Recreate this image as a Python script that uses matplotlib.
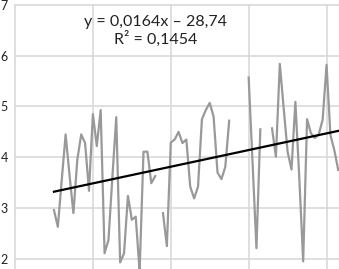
import matplotlib
matplotlib.use('Agg')
import matplotlib.pyplot as plt
import numpy as np

plt.rcParams['font.family'] = ['Lato', 'DejaVu Sans']

# yearly values, NaN where the series has a gap
years = list(range(1955, 2029))
values = [
    2.96, 2.63, 3.55, 4.45, 3.65, 2.90, 3.95, 4.45, 4.28, 3.34,   # 1955-1964
    4.85, 4.22, 4.93, 2.11, 2.37, 3.60, 4.79, 1.93, 2.11, 3.24,   # 1965-1974
    2.77, 2.83, 1.75, 4.11, 4.11, 3.49, 3.63, np.nan, 2.90, 2.25,  # 1975-1984
    4.29, 4.35, 4.50, 4.28, 4.35, 3.42, 3.19, 3.42, 4.75, 4.93,   # 1985-1994
    5.07, 4.80, 3.70, 3.57, 3.81, 4.72, np.nan, np.nan, np.nan, np.nan,  # 1995-2004
    5.57, 3.90, 2.21, 4.55, np.nan, np.nan, 4.57, 4.01, 5.84, 4.96,  # 2005-2014
    4.11, 3.76, 5.09, 3.60, 1.95, 4.75, 4.47, 4.38, 4.45, 4.74,   # 2015-2024
    5.82, 4.44, 4.14, 3.75,                                       # 2025-2028
]

# trend line as printed on the chart
slope = 0.0164
intercept = -28.74
equation = 'y = 0,0164x – 28,74\nR² = 0,1454'

fig = plt.figure(figsize=(3.39, 2.69), dpi=100)
ax = fig.add_axes([15 / 339, 0.0, 1 - 15 / 339, (269 - 4.9) / 269])

ax.plot(years, values, color='#999999', linewidth=1.6, zorder=3)

trend_x = np.array([years[0], 2030])
ax.plot(trend_x, slope * trend_x + intercept, color='black', linewidth=1.6, zorder=4)

ax.set_xlim(1945, 2028.2)
ax.set_ylim(1.8, 7.0)
ax.set_xticks([1945, 1965, 1985, 2005, 2025])
ax.set_yticks([2, 3, 4, 5, 6, 7])
ax.set_xticklabels([])
ax.grid(True, color='#d9d9d9', linewidth=1.2)
ax.set_axisbelow(True)
for s in ax.spines.values():
    s.set_visible(False)
ax.tick_params(axis='both', length=0)
ax.tick_params(axis='y', pad=5, labelsize=9, labelcolor='#222222')
for gl in ax.get_ygridlines() + ax.get_xgridlines():
    gl.set_clip_on(False)

ax.text(1981.2, 6.48, equation, ha='center', va='center', fontsize=11.5,
        color='#222222', linespacing=1.15)

plt.savefig('out.png', dpi=100)
